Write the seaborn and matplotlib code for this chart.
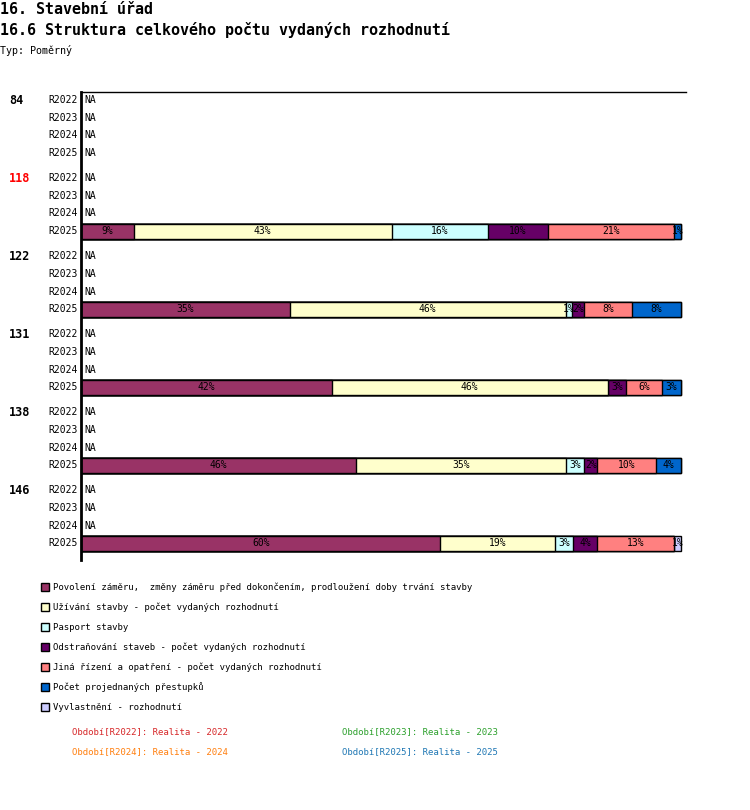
import matplotlib
matplotlib.use('Agg')
import matplotlib.pyplot as plt
from matplotlib.patches import Rectangle
from matplotlib.transforms import blended_transform_factory
import seaborn as sns
import numpy as np

# Data
groups = ['84', '118', '122', '131', '138', '146']
periods = ['R2022', 'R2023', 'R2024', 'R2025']
highlight_group = '118'

categories = [
    'Povolení záměru,  změny záměru před dokončením, prodloužení doby trvání stavby',
    'Užívání stavby - počet vydaných rozhodnutí',
    'Pasport stavby',
    'Odstraňování staveb - počet vydaných rozhodnutí',
    'Jiná řízení a opatření - počet vydaných rozhodnutí',
    'Počet projednaných přestupků',
    'Vyvlastnění - rozhodnutí',
]
colors = ['#993366', '#ffffcc', '#ccffff', '#660066', '#ff8080', '#0066cc', '#ccccff']

# groups that have data in R2025 (share in %)
data_groups = ['118', '122', '131', '138', '146']
povoleni = [8.8, 34.8, 41.8, 45.9, 59.9]
uzivani = [43.0, 46.0, 46.0, 35.0, 19.1]
pasport = [16.0, 1.1, 0.0, 3.0, 3.0]
odstranovani = [10.0, 1.9, 3.1, 2.1, 4.0]
jina = [21.0, 8.0, 6.0, 9.9, 12.9]
prestupky = [1.2, 8.2, 3.1, 4.1, 0.0]
vyvlastneni = [0.0, 0.0, 0.0, 0.0, 1.1]

period_notes = ['Období[R2022]: Realita - 2022', 'Období[R2023]: Realita - 2023',
                'Období[R2024]: Realita - 2024', 'Období[R2025]: Realita - 2025']
note_colors = ['#d62728', '#2ca02c', '#ff7f0e', '#1f77b4']

series = np.array([povoleni, uzivani, pasport, odstranovani, jina, prestupky, vyvlastneni])

sns.set_style('white')
plt.rcParams['font.family'] = ['DejaVu Sans Mono', 'DejaVu Sans']
plt.rcParams['text.color'] = 'black'

fig = plt.figure(figsize=(7.5, 8.1), dpi=100)
W, H = 750, 810
ax = fig.add_axes([81 / W, 1 - 560 / H, 605 / W, (560 - 92) / H])

group_step = 4.41
def row_pos(g, r):
    return g * group_step + r

bar_pos = [row_pos(groups.index(g), 3) for g in data_groups]

# stacked bars: draw cumulative sums back to front
cum = np.cumsum(series, axis=0)
for k in reversed(range(len(categories))):
    sns.barplot(x=cum[k], y=bar_pos, orient='h', native_scale=True,
                color=colors[k], saturation=1, edgecolor='black', linewidth=1,
                width=0.86 / group_step, errorbar=None, ax=ax)

# percent labels
for j, p in enumerate(bar_pos):
    left = 0
    for k in range(len(categories)):
        v = series[k, j]
        if v > 0:
            ax.text(left + v / 2, p, f'{round(v):.0f}%', ha='center', va='center',
                    fontsize=7, color='black')
        left += v

# row labels, group labels and NA
tr = blended_transform_factory(fig.transFigure, ax.transData)
for g, grp in enumerate(groups):
    ax.text(9 / W, row_pos(g, 0), grp, transform=tr, ha='left', va='center',
            fontsize=8.5, fontweight='bold',
            color='red' if grp == highlight_group else 'black')
    for r, per in enumerate(periods):
        ax.text(78 / W, row_pos(g, r), per, transform=tr, ha='right', va='center',
                fontsize=7)
        if not (per == 'R2025' and grp in data_groups):
            ax.text(0.5, row_pos(g, r), 'NA', ha='left', va='center', fontsize=7)

ax.set_xlim(0, 100 * 605 / 600)
ax.set_ylim(25.99, -0.452)
ax.set_xticks([])
ax.set_yticks([])
ax.set_xlabel('')
ax.set_ylabel('')
for s in ['right', 'bottom']:
    ax.spines[s].set_visible(False)
ax.spines['left'].set_linewidth(2)
ax.spines['top'].set_linewidth(1)
ax.spines['left'].set_color('black')
ax.spines['top'].set_color('black')

# titles
fig.text(0, 1 - 9 / H, '16. Stavební úřad', ha='left', va='center', fontsize=10.8, fontweight='bold')
fig.text(0, 1 - 30 / H, '16.6 Struktura celkového počtu vydaných rozhodnutí', ha='left', va='center',
         fontsize=10.8, fontweight='bold')
fig.text(0, 1 - 50 / H, 'Typ: Poměrný', ha='left', va='center', fontsize=7.2)

# legend
for i, (name, c) in enumerate(zip(categories, colors)):
    yc = 587 + i * 20
    fig.patches.append(Rectangle((41 / W, 1 - (yc + 4) / H), 8 / W, 8 / H, facecolor=c,
                                 edgecolor='black', linewidth=1, transform=fig.transFigure))
    fig.text(53 / W, 1 - yc / H, name, ha='left', va='center', fontsize=6.5)

for i, (txt, c) in enumerate(zip(period_notes, note_colors)):
    x = 72 if i % 2 == 0 else 342
    y = 732 + (i // 2) * 20
    fig.text(x / W, 1 - y / H, txt, ha='left', va='center', fontsize=6.5, color=c)

fig.savefig('out.png', dpi=100)
